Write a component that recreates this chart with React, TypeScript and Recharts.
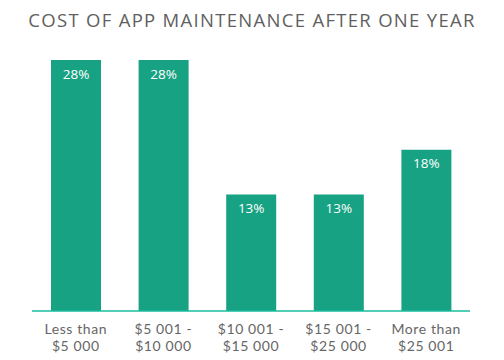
import { Bar, BarChart, LabelList, XAxis, YAxis } from 'recharts';

const categories = [
  'Less than\n$5 000',
  '$5 001 -\n$10 000',
  '$10 001 -\n$15 000',
  '$15 001 -\n$25 000',
  'More than\n$25 001',
];
const shares = [28, 28, 13, 13, 18];

const data = categories.map((name, i) => ({ name, share: shares[i] }));

const FONT = '"Open Sans", Lato, sans-serif';
const TICK_FONT = 'Lato, "Open Sans", sans-serif';

function TwoLineTick({ x, y, payload }: any) {
  const lines = String(payload.value).split('\n');
  return (
    <g>
      {lines.map((line, i) => (
        <text
          key={i}
          x={x}
          y={y + 15 + i * 17}
          textAnchor="middle"
          fill="#666"
          fontSize={14}
          letterSpacing={0.6}
          fontFamily={TICK_FONT}
        >
          {line}
        </text>
      ))}
    </g>
  );
}

export default function App() {
  return (
    <div style={{ position: 'absolute', left: 0, top: 0, width: 504, height: 360, background: '#fff' }}>
      <div
        style={{
          position: 'absolute',
          left: 0,
          top: 8,
          width: 504,
          textAlign: 'center',
          fontFamily: FONT,
          fontSize: 18.5,
          letterSpacing: 1.3,
          color: '#5f5f5f',
          lineHeight: '24px',
        }}
      >
        COST OF APP MAINTENANCE AFTER ONE YEAR
      </div>
      <BarChart
        width={504}
        height={360}
        data={data}
        margin={{ top: 60, right: 34, bottom: 4, left: 32 }}
      >
        <XAxis
          dataKey="name"
          height={45}
          tickLine={false}
          axisLine={{ stroke: '#1abc9c', strokeWidth: 1.5 }}
          tick={<TwoLineTick />}
          interval={0}
        />
        <YAxis hide domain={[0, 28]} />
        <Bar dataKey="share" fill="#17a283" barSize={50} isAnimationActive={false}>
          <LabelList
            dataKey="share"
            position="insideTop"
            offset={9}
            fill="#fff"
            fontSize={13.5}
            fontFamily={FONT}
            formatter={(v: any) => `${v}%`}
          />
        </Bar>
      </BarChart>
    </div>
  );
}
